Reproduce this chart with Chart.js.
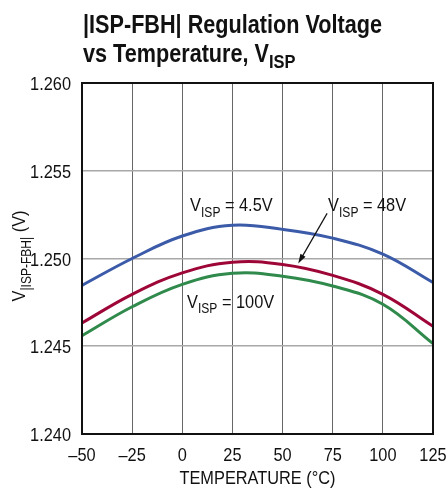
<!DOCTYPE html>
<html>
<head>
<meta charset="utf-8">
<script src="https://cdn.jsdelivr.net/npm/chart.js@4"></script>
<style>
  html, body { margin: 0; padding: 0; background: #fff; }
</style>
</head>
<body>
<canvas id="regChart" width="448" height="489"></canvas>
<script>
const temps = [-50, -25, 0, 25, 50, 75, 100, 125];
const visp45 = [1.24847, 1.25000, 1.25128, 1.25190, 1.25166, 1.25116, 1.25025, 1.24863];
const visp48 = [1.24633, 1.24796, 1.24918, 1.24979, 1.24966, 1.24904, 1.24796, 1.24614];
const visp100 = [1.24560, 1.24725, 1.24853, 1.24916, 1.24899, 1.24843, 1.24739, 1.24515];

const titleLines = ["|ISP-FBH| Regulation Voltage", "vs Temperature, V"];
const xTitle = "TEMPERATURE (°C)";

const FONT = "'Liberation Sans', Arial, sans-serif";
const SQUEEZE = 0.86; // the reference uses a condensed face

// draw text squeezed horizontally, returns drawn width
function drawNarrow(ctx, txt, x, y, font, k) {
  ctx.font = font;
  const w = ctx.measureText(txt).width * k;
  const align = ctx.textAlign;
  let x0 = x;
  if (align === "center") x0 = x - w / 2;
  else if (align === "right") x0 = x - w;
  ctx.save();
  ctx.textAlign = "left";
  ctx.translate(x0, y);
  ctx.scale(k, 1);
  ctx.fillText(txt, 0, 0);
  ctx.restore();
  return w;
}

// text with subscript parts: [[text, isSub], ...]
function drawParts(ctx, x, y, parts, size, k) {
  let cx = x;
  parts.forEach(([txt, sub]) => {
    const f = (sub ? Math.round(size * 0.76) : size) + "px " + FONT;
    cx += drawNarrow(ctx, txt, cx, sub ? y + size * 0.3 : y, f, k);
  });
  return cx - x;
}

function partsWidth(ctx, parts, size, k) {
  let w = 0;
  parts.forEach(([txt, sub]) => {
    ctx.font = (sub ? Math.round(size * 0.76) : size) + "px " + FONT;
    w += ctx.measureText(txt).width * k;
  });
  return w;
}

const labelsPlugin = {
  id: "labels",
  afterDraw(chart) {
    const ctx = chart.ctx;
    const xs = chart.scales.x, ys = chart.scales.y;
    const area = chart.chartArea;
    ctx.save();
    ctx.fillStyle = "#111";
    ctx.textBaseline = "alphabetic";
    ctx.textAlign = "left";

    // frame
    ctx.strokeStyle = "#111";
    ctx.lineWidth = 2;
    ctx.strokeRect(area.left, area.top, area.right - area.left, area.bottom - area.top);

    // tick labels
    ys.ticks.forEach((t) => {
      ctx.textAlign = "right";
      drawNarrow(ctx, t.value.toFixed(3), 71, ys.getPixelForValue(t.value) + 7, "19px " + FONT, SQUEEZE);
    });
    xs.ticks.forEach((t) => {
      const lbl = t.value < 0 ? "\u2013" + Math.abs(t.value) : String(t.value);
      ctx.textAlign = "center";
      drawNarrow(ctx, lbl, xs.getPixelForValue(t.value), 461, "19px " + FONT, SQUEEZE);
    });
    ctx.textAlign = "left";

    // title, squeezed to the reference's width
    const tf = "bold 25px " + FONT;
    ctx.font = tf;
    const tk = 299 / ctx.measureText(titleLines[0]).width;
    drawNarrow(ctx, titleLines[0], 83, 33, tf, tk);
    const w2 = drawNarrow(ctx, titleLines[1], 83, 62, tf, tk);
    drawNarrow(ctx, "ISP", 83 + w2, 68, "bold 19px " + FONT, tk);

    // curve labels
    const sz = 19;
    drawParts(ctx, xs.getPixelForValue(3.9), ys.getPixelForValue(1.25269),
      [["V", false], ["ISP", true], [" = 4.5V", false]], sz, SQUEEZE);
    drawParts(ctx, xs.getPixelForValue(72.7), ys.getPixelForValue(1.25269),
      [["V", false], ["ISP", true], [" = 48V", false]], sz, SQUEEZE);
    drawParts(ctx, xs.getPixelForValue(2.4), ys.getPixelForValue(1.2472),
      [["V", false], ["ISP", true], [" = 100V", false]], sz, SQUEEZE);

    // arrow to 48V curve
    const x0 = xs.getPixelForValue(72.2), y0 = ys.getPixelForValue(1.25257);
    const x1 = xs.getPixelForValue(57.8), y1 = ys.getPixelForValue(1.24971);
    const ang = Math.atan2(y1 - y0, x1 - x0);
    ctx.strokeStyle = "#111";
    ctx.lineWidth = 1.2;
    ctx.beginPath();
    ctx.moveTo(x0, y0);
    ctx.lineTo(x1 - 6 * Math.cos(ang), y1 - 6 * Math.sin(ang));
    ctx.stroke();
    ctx.beginPath();
    ctx.moveTo(x1, y1);
    ctx.lineTo(x1 - 10 * Math.cos(ang - 0.3), y1 - 10 * Math.sin(ang - 0.3));
    ctx.lineTo(x1 - 10 * Math.cos(ang + 0.3), y1 - 10 * Math.sin(ang + 0.3));
    ctx.closePath();
    ctx.fill();

    // x axis title
    ctx.textAlign = "center";
    drawNarrow(ctx, xTitle, (area.left + area.right) / 2, 484, "19px " + FONT, SQUEEZE);
    ctx.textAlign = "left";

    // y axis title, rotated
    const yParts = [["V", false], ["|ISP-FBH|", true], [" (V)", false]];
    const yw = partsWidth(ctx, yParts, sz, SQUEEZE);
    ctx.translate(25, 256);
    ctx.rotate(-Math.PI / 2);
    drawParts(ctx, -yw / 2, 0, yParts, sz, SQUEEZE);
    ctx.restore();
  }
};

const ctx = document.getElementById("regChart").getContext("2d");
const chart = new Chart(ctx, {
  type: "line",
  data: {
    datasets: [
      { label: "VISP = 4.5V", data: temps.map((t, i) => ({ x: t, y: visp45[i] })), borderColor: "#3b5ba9" },
      { label: "VISP = 48V", data: temps.map((t, i) => ({ x: t, y: visp48[i] })), borderColor: "#9e0638" },
      { label: "VISP = 100V", data: temps.map((t, i) => ({ x: t, y: visp100[i] })), borderColor: "#2f8a4c" },
    ],
  },
  options: {
    responsive: false,
    animation: false,
    devicePixelRatio: 1,
    layout: { padding: { left: 0, right: 15, top: 83, bottom: 0 } },
    elements: {
      line: { borderWidth: 3, tension: 0.4, fill: false },
      point: { radius: 0 },
    },
    plugins: {
      legend: { display: false },
      tooltip: { enabled: false },
    },
    scales: {
      x: {
        type: "linear",
        min: -50,
        max: 125,
        afterFit(scale) { scale.height = 55; },
        grid: { color: "#666", lineWidth: 1, drawTicks: false },
        border: { color: "#111", width: 2 },
        ticks: { stepSize: 25, display: false },
      },
      y: {
        min: 1.24,
        max: 1.26,
        afterFit(scale) { scale.width = 82; },
        grid: { color: "#a8a8a8", lineWidth: 1.5, drawTicks: false },
        border: { color: "#111", width: 2 },
        ticks: { stepSize: 0.005, display: false },
      },
    },
  },
  plugins: [labelsPlugin],
});
</script>
</body>
</html>
